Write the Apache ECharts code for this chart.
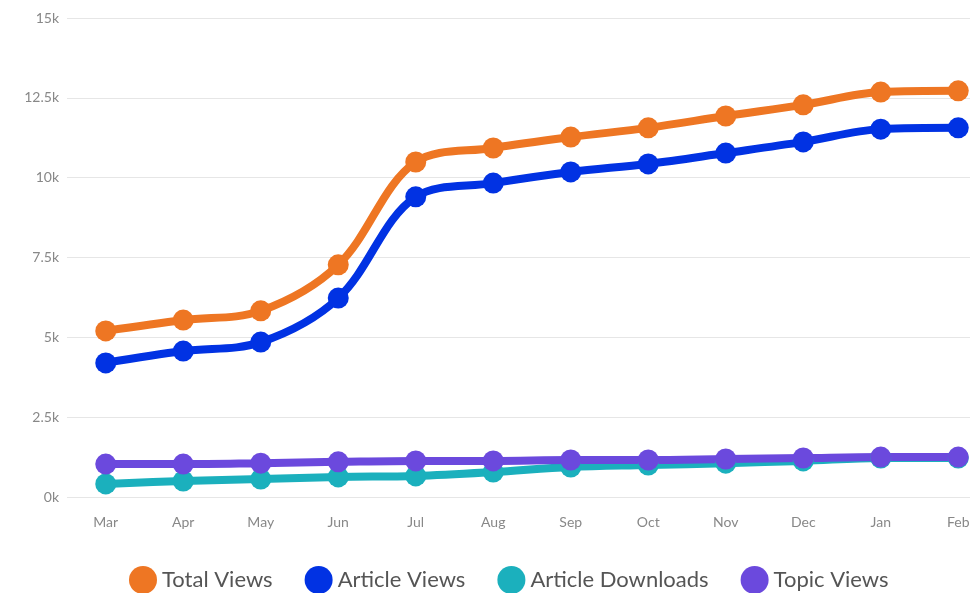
<!DOCTYPE html>
<html><head><meta charset="utf-8">
<script src="https://cdn.jsdelivr.net/npm/echarts@6/dist/echarts.min.js"></script>
<style>html,body{margin:0;padding:0;background:#fff}#c{width:970px;height:593px}</style>
</head><body><div id="c"></div>
<script>
const categories = ['Mar','Apr','May','Jun','Jul','Aug','Sep','Oct','Nov','Dec','Jan','Feb'];
const totalViews = [5200, 5540, 5830, 7270, 10490, 10930, 11270, 11560, 11930, 12280, 12680, 12720];
const articleViews = [4200, 4570, 4850, 6230, 9400, 9830, 10180, 10430, 10770, 11120, 11520, 11560];
const articleDownloads = [410, 500, 560, 630, 660, 780, 940, 1000, 1060, 1130, 1220, 1220];
const topicViews = [1030, 1030, 1060, 1100, 1130, 1130, 1160, 1160, 1190, 1220, 1250, 1250];
const seriesNames = ['Total Views','Article Views','Article Downloads','Topic Views'];
const colors = ['#EE7623','#0132E3','#1BB0BD','#6B49DD'];

const chart = echarts.init(document.getElementById('c'));
const mk = (name, data, color) => ({
  name, type: 'line', data, smooth: 0.35, symbol: 'circle', symbolSize: 21,
  lineStyle: { width: 8, color }, itemStyle: { color }, color
});
chart.setOption({
  animation: false,
  legend: {
    bottom: -6, left: 124, itemWidth: 28, itemHeight: 28, itemGap: 32,
    icon: 'circle',
    textStyle: { fontFamily: 'Lato', fontSize: 22, color: '#555' },
    data: seriesNames
  },
  grid: { left: 67, right: -27, top: 18, bottom: 96, outerBoundsMode: 'none', containLabel: false },
  xAxis: {
    type: 'category', data: categories, boundaryGap: true,
    axisLine: { show: false }, axisTick: { show: false },
    axisLabel: { color: '#888', fontFamily: 'Lato', fontSize: 14, margin: 18 }
  },
  yAxis: {
    type: 'value', min: 0, max: 15000, interval: 2500,
    axisLabel: { color: '#888', fontFamily: 'Lato', fontSize: 14, margin: 8,
      formatter: v => (v / 1000) + 'k' },
    splitLine: { lineStyle: { color: '#e6e6e6', width: 1 } }
  },
  series: [
    mk(seriesNames[0], totalViews, colors[0]),
    mk(seriesNames[1], articleViews, colors[1]),
    mk(seriesNames[2], articleDownloads, colors[2]),
    mk(seriesNames[3], topicViews, colors[3])
  ]
});
</script></body></html>
